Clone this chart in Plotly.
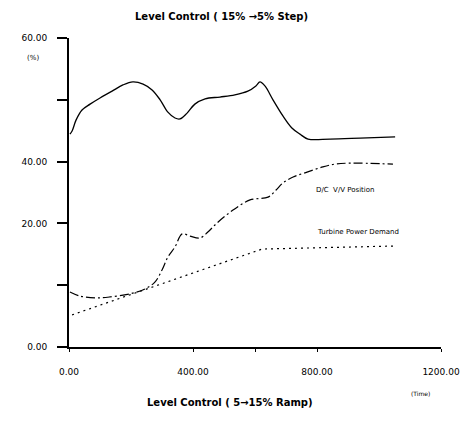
import plotly.graph_objects as go

# Level curve (solid)
level_t = [3, 10, 23, 42, 68, 100, 139, 174, 206, 239, 268, 294, 319, 342, 358, 381, 406, 439,
           487, 535, 577, 603, 616, 632, 658, 690, 719, 745, 771, 842, 939, 1052]
level_v = [68.9, 69.9, 73.5, 76.7, 78.6, 80.6, 82.8, 84.8, 85.8, 85.1, 83.2, 80.0, 76.0, 74.1,
           73.8, 75.7, 78.6, 80.3, 80.9, 81.6, 82.8, 84.5, 85.8, 84.5, 80.0, 74.8, 70.9, 68.9,
           67.3, 67.3, 67.6, 68.0]

# D/C V/V Position (dashed)
valve_t = [3, 35, 84, 132, 197, 245, 277, 300, 319, 342, 365, 390, 423, 448, 477, 529, 584,
           642, 668, 690, 723, 768, 819, 858, 906, 1045]
valve_v = [17.8, 16.5, 15.9, 16.2, 17.2, 18.8, 21.0, 24.9, 29.1, 32.4, 36.6, 35.9, 35.3, 37.2,
           40.1, 44.3, 47.6, 48.5, 50.8, 53.1, 55.0, 56.6, 58.3, 59.2, 59.5, 59.2]

# Turbine Power Demand (dotted)
power_t = [10, 623, 1058]
power_v = [10.4, 31.7, 32.7]

x_tickvals = [0, 400, 600, 800, 1200]
x_ticktext = ["0.00", "400.00", "", "800.00", "1200.00"]
y_tickvals = [0, 20, 40, 60, 80, 100]
y_ticktext = ["0.00", "", "20.00", "40.00", "", "60.00"]

fig = go.Figure()
fig.add_trace(go.Scatter(x=level_t, y=level_v, mode="lines", line=dict(color="black", width=1.3),
                         line_shape="spline", showlegend=False))
fig.add_trace(go.Scatter(x=valve_t, y=valve_v, mode="lines",
                         line=dict(color="black", width=1.2, dash="9px,3px,2px,3px"),
                         line_shape="spline", showlegend=False))
fig.add_trace(go.Scatter(x=power_t, y=power_v, mode="lines",
                         line=dict(color="black", width=1.2, dash="2px,4px"), showlegend=False))


def note(text, x, y, size, xanchor="center"):
    return dict(text=text, xref="paper", yref="paper", x=x, y=y, showarrow=False,
                xanchor=xanchor, yanchor="middle",
                font=dict(family="DejaVu Sans", size=size, color="black"))


fig.update_layout(
    width=462, height=415,
    margin=dict(l=61, r=29, t=30, b=76, autoexpand=False),
    paper_bgcolor="white", plot_bgcolor="white",
    xaxis=dict(range=[0, 1200], tickvals=x_tickvals, ticktext=x_ticktext, showgrid=False,
               zeroline=False, showline=True, linecolor="black", linewidth=2,
               ticks="outside", ticklen=3, tickcolor="black", ticklabelstandoff=12,
               tickfont=dict(family="DejaVu Sans", size=9, color="black")),
    yaxis=dict(range=[0, 100], tickvals=y_tickvals, ticktext=y_ticktext, showgrid=False,
               zeroline=False, showline=True, linecolor="black", linewidth=2,
               ticks="outside", ticklen=10, tickcolor="black", tickwidth=1.5, ticklabelstandoff=8,
               tickfont=dict(family="DejaVu Sans", size=9, color="black")),
    annotations=[
        note("<b>Level Control ( 15% →5% Step)</b>", 0.411, 1.068, 10),
        note("<b>Level Control ( 5→15% Ramp)</b>", 0.433, -0.178, 10),
        note("(%)", -0.097, 0.935, 7),
        note("(Time)", 0.946, -0.149, 6),
        note("D/C  V/V Position", 0.659, 0.508, 7, "left"),
        note("Turbine Power Demand", 0.661, 0.372, 7, "left"),
    ],
)
fig.write_html("out.html")
